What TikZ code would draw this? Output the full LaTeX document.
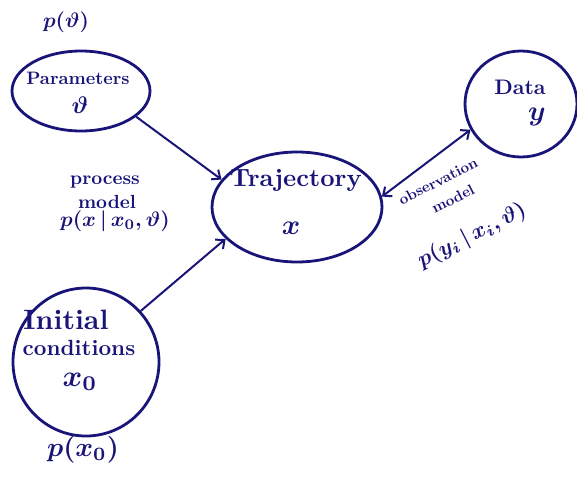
\documentclass[tikz,border=0pt]{standalone}
\usepackage{graphicx}
\usetikzlibrary{shapes.geometric,arrows.meta}
\definecolor{ink}{RGB}{24,20,120}
\newcommand{\hwtext}[2]{\scalebox{#1}{#2}}
\begin{document}
\begin{tikzpicture}[x=1pt,y=-1pt,
  bubble/.style={draw=ink,line width=2.8pt,ellipse,inner sep=0pt},
  arr/.style={draw=ink,line width=2pt,-{Straight Barb[length=7pt,width=12pt]}},
  darr/.style={draw=ink,line width=2pt,{Straight Barb[length=7pt,width=12pt]}-{Straight Barb[length=7pt,width=12pt]}},
  lbl/.style={text=ink,inner sep=0pt,font=\fontsize{10}{10}\selectfont\bfseries\boldmath}]
\useasboundingbox (0,0) rectangle (577,476);
% bubbles
\node[bubble,minimum width=138pt,minimum height=80pt] (par) at (81,91) {};
\node[bubble,minimum width=112pt,minimum height=106pt] (dat) at (521,104) {};
\node[bubble,minimum width=170pt,minimum height=110pt] (traj) at (297,207) {};
\node[bubble,minimum width=146pt,minimum height=148pt] (ini) at (86,362) {};
% texts
\node[lbl] (pth) at (66,22) {\hwtext{2.1}{$p(\vartheta)$}};
\node[lbl] (parT) at (78,78) {\hwtext{1.8}{Parameters}};
\node[lbl] (parV) at (80,105) {\hwtext{2.4}{$\vartheta$}};
\node[lbl] (datT) at (520,87) {\hwtext{2.1}{Data}};
\node[lbl] (datV) at (537,117) {\hwtext{2.8}{$y$}};
\node[lbl] (trajT) at (296,180) {\hwtext{2.5}{Trajectory}};
\node[lbl] (trajV) at (291,228) {\hwtext{2.8}{$x$}};
\node[lbl] (iniT) at (66,320) {\hwtext{2.8}{Initial}};
\node[lbl] (iniC) at (79,348) {\hwtext{2.2}{conditions}};
\node[lbl] (iniV) at (80,382) {\hwtext{3.0}{$x_0$}};
\node[lbl] (pxo) at (83,450) {\hwtext{2.7}{$p(x_0)$}};
\node[lbl] (procA) at (105,182) {\hwtext{1.9}{process}};
\node[lbl] (procB) at (107,202) {\hwtext{1.9}{model}};
\node[lbl] (procC) at (115,221) {\hwtext{2.1}{$p(x\,|\,x_0,\vartheta)$}};
\node[lbl,rotate=27] (obsA) at (438,181) {\hwtext{1.5}{observation}};
\node[lbl,rotate=27] (obsB) at (453,199) {\hwtext{1.5}{model}};
\node[lbl,rotate=27] (obsC) at (472,236) {\hwtext{2.2}{$p(y_i\,|\,x_i,\vartheta)$}};
% connectors
\draw[arr] (par.-25) -- (traj.160);
\draw[arr] (ini.43) -- (traj.204);
\draw[darr] (traj.7) -- (dat.207);
\end{tikzpicture}
\end{document}
